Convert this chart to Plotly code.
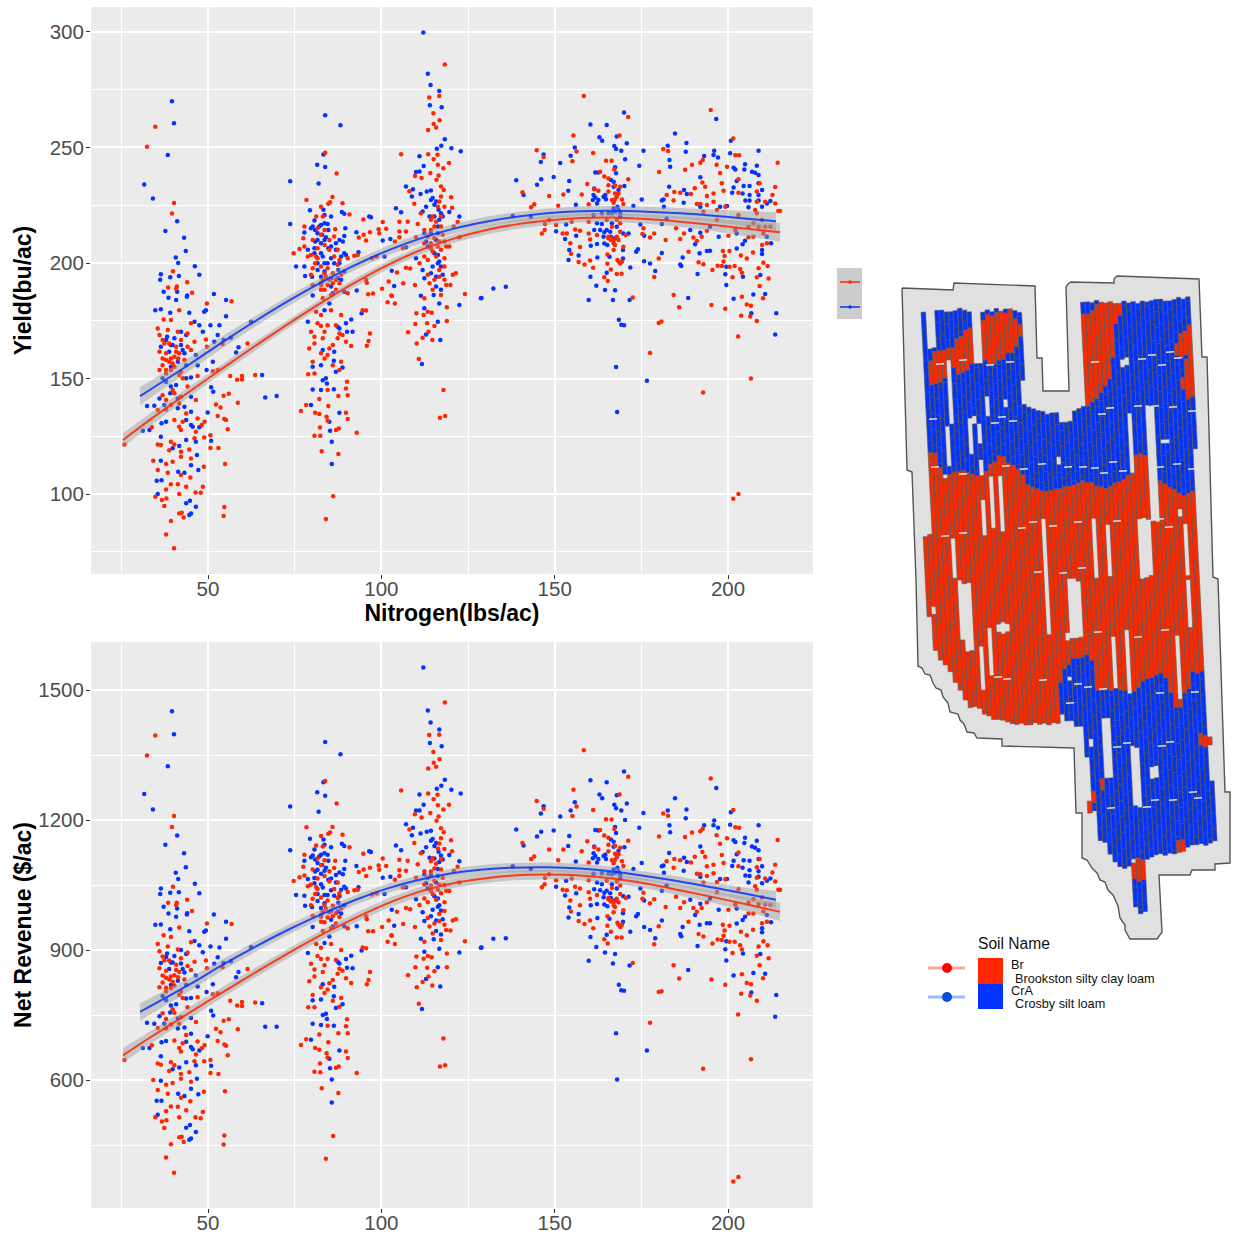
import plotly.graph_objects as go

# ---------- scatter records: (nitrogen, yield, net revenue) ----------
BLUE_LOW = [(39.6,270,1451),(40.2,260.5,1398),(38.4,246.7,1324),(31.6,234,1260),(34.1,227.9,1224),(41.1,218.1,1164),(37.7,213.8,1143),(43.1,210.9,1123),(43.6,205.2,1091),(40.7,202.4,1078),(41.4,200,1064),(46.2,198.6,1053),(47.5,194.9,1031),(36.4,195.1,1042),(36.2,192.8,1029),(39.1,193.8,1032),(41.6,194.4,1033),(51.7,186.6,982),(55.2,184,965),(37.2,187.6,1000),(38.6,185,984),(41.1,187.6,996),(44,185.9,985),
(34.8,179.6,958),(36.4,180,959),(39.1,178.5,948),(40.8,184,977),(43.9,185.4,982),(44.6,178.5,943),(49.4,179.6,945),(48.9,178.9,942),(55.2,177,926),(46.1,174.6,921),(47.5,173.1,911),(48.5,170.3,895),(50.7,173.1,908),(53.3,173.1,906),(52.8,168.8,883),(42.2,170.3,900),(38.2,168.1,892),(40.3,167.4,886),(43.7,168.8,891),(51.8,165.9,868),(54.5,166.7,870),(56.6,167.7,874),(62.4,174.6,907),(39.3,164.5,871),(36.4,163.8,870),(42.7,162.3,856),(46.5,160.2,841),(58.8,163.5,849),(58.1,161.3,837),(51.4,157.3,821),(47,155.8,816),(49.6,153.7,803),(43.7,155.8,819),(39.3,155.1,819),(45.1,150.5,789),(36.9,150.1,794),(65.6,151.5,777),(50.9,146.2,760),(51.5,144.3,749),(66.5,141.8,723),(69.8,142.4,723),(39.1,143.6,756),(36,141.4,747),(41.3,141.4,742),(45.1,142.1,743),(32.4,138.1,732),(34.5,138.2,730),(37.4,138.5,730),(43.2,137.8,721),(45.1,135.6,707),(49.9,135.3,701),(41.3,137.1,719),(36.6,130.6,687),(37.9,131.3,690),(43.7,132,688),(45.1,129.9,676),(31.2,127.4,674),(33.1,127.7,674),(36.4,124.8,655),(45.6,129.1,671),(47.5,128.9,668),(43.7,123.4,641),(41.7,120.8,629),(39.8,119.8,625),(46.5,122.6,634),(50.9,123.1,633),(46.8,116.9,603),(36.4,114.4,598),(45.1,112.5,580),(41.4,109.7,568),(47.2,110.4,567),(36.6,106,552),(35.2,105.8,552),(43.2,109.2,563),(35.5,100,520),(43.7,96,490),(44.8,97.1,496),(46.5,94.5,480),(45.1,91.6,465),(44.6,90.9,462),
(37.9,166.7,884),(39.8,164.5,871),(42.2,164.5,869),(43.2,160.9,848),(38.8,161.6,856),(41.3,157.3,829),(37.9,148.6,784),(40.8,147.2,775),(43.7,150.1,788),(39.3,146.5,772)]
BLUE_MID = [(83.8,264,1380),(88.2,259.6,1352),(83.3,247,1287),(81.5,242.5,1264),(83.8,241.5,1256),(73.7,235.4,1231),(81.9,234.4,1219),(79.4,222.8,1157),(83.3,223,1155),(83.6,220.8,1143),(88.6,222.1,1145),(89.3,221.3,1140),(73.7,216.9,1130),(80.7,218.4,1132),(82.6,216.5,1120),(84.5,216.9,1120),(85.5,220.1,1137),(79.7,215,1114),(77.8,213.2,1106),(81.6,212.9,1101),(89.6,215,1106),(92.8,213.3,1094),(89.3,211.7,1087),(88.9,209.3,1075),(86.9,208.6,1073),(83.6,210,1083),(81.6,210,1085),(78.8,205.7,1064),(80.7,206.4,1066),(82.6,204.2,1052),(85.5,202.1,1038),(89.3,204.2,1046),(89.8,203.5,1042),(93.4,204.7,1045),(75.4,198.5,1027),(77.8,198.5,1025),(84.5,199.9,1027),(87.9,199.9,1024),(89.3,196.3,1003),(81.6,197,1013),(83.6,196.3,1008),(78,194.4,1002),(80,194.1,999),(87.4,193.4,989),(85.5,189.8,970),(82.6,191.2,981),(89.3,187.6,955),(92.9,188.1,955),(80.2,185.9,953),(86,186.9,954),
(78.8,174.6,893),(83.6,179.6,916),(85,182.5,931),(87.4,172.4,873),(89.8,173.9,879),(90.1,170.3,859),(91.7,170.3,858),(87.9,171.7,869),(91.3,175.6,887),(94.3,178.2,899),(83.1,162.3,821),(86.4,161.6,815),(86.3,157.7,793),(82.6,155.8,786),(80.2,155.1,784),(86.9,152.9,766),(88.8,154.8,775),(83.1,149.3,750),(84,150.1,753),(84.3,147.9,741),(80.2,145.3,730),(82.6,145,727),(86.3,145.4,725),(87.9,135.2,668),(79.7,138.5,693),(85,131.3,649),(85.7,122.6,601),(85.7,113,548),(85.2,127.4,627),
(80.2,215.8,1118),(80.9,214.3,1109),(82.1,215.8,1116),(83.6,217.2,1123),(84.7,214.3,1106),(82.9,212.2,1096),(84,211.2,1090),(80.9,209.3,1081),(82.6,208.6,1076),(85.5,207.1,1065),(86.9,205.7,1056),(87.9,210,1079),(80.7,204.2,1054),(83.1,202.8,1044),(84.7,206.4,1062),(88.4,202.8,1039),(86.4,199.9,1025),(81.6,199.9,1029),(83.6,199.9,1027),(87.6,197,1009),(82.6,194.1,997),(85.5,193.4,990),(88.4,192.7,984)]
BLUE_HIGH = [(112.1,299.8,1552),(113.4,281.9,1453),(114.2,277,1425),(116.7,274.4,1409),(114,268.3,1378),(117.4,267.4,1370),(118.3,253.6,1293),(117.3,250.8,1279),(116,249.5,1272),(120.2,249.7,1270),(122.9,248.4,1261),(111,246.2,1259),(112.2,242,1235),(111,239.6,1222),(110,239.4,1222),(107.1,233.1,1190),(109.1,231.9,1182),(111.3,229.9,1169),(108.8,228.8,1165),(113.1,230.9,1173),(114.3,231.4,1175),(114.8,228.1,1156),(115.8,226.6,1147),(112.9,224.4,1137),(104.2,223.7,1141),(105.7,222,1130),(111.9,222.3,1126),(117.2,221.5,1118),(119.6,222.1,1119),(122.5,220.1,1105),(116.7,218.7,1103),(97,219.8,1126),(96.5,220.1,1128),(100.4,209.7,1067),(102.6,210.4,1069),(107.1,206.8,1045),(100.9,202.8,1029),(103.7,190.1,956),(103,196.6,993),(110,202.1,1017),(112.4,212.9,1074),(116.3,212.9,1071),(113.4,207.1,1042),(116.3,203.5,1019),(111.9,197,987),(112.4,193.4,967),(116.3,199.9,1000),(117.7,194.9,971),(114.3,195.6,978),(115.8,189.8,944),(117.2,188.4,936),(111.4,185.8,926),(115.1,186.2,925),(128.9,184.9,906),(122.5,181.8,894),(112.4,180.4,896),(116.7,182.5,903),(116.3,174.6,860),(117,166.7,816),(112.9,169.1,833),(111.7,156.3,764),
(114.3,227.3,1152),(115.3,225.2,1140),(116.5,223,1127),(113.9,220.1,1113),(115.3,220.1,1111),(117.7,220.1,1109),(116.3,215.8,1087),(114.3,212.9,1073),(112.9,209.3,1054),(115.8,210,1055),(115.3,204.2,1024),(116.7,200.6,1003),(114.8,198.5,993),(117.2,198.5,991),(115.8,194.1,968)]
BLUE_RIGHT = [(170,265.1,1312),(160.3,259.9,1292),(165,259.7,1287),(196.6,262.3,1274),(184.7,256.1,1250),(162.9,254.4,1259),(163.7,252.9,1250),(167.9,254.7,1257),(155.8,250,1241),(167.2,250.6,1235),(167.7,249.3,1227),(169.2,248.6,1222),(170.8,251.8,1238),(182.6,250.8,1222),(188,251.9,1224),(200.8,252.9,1218),(187.8,248.2,1204),(175.6,248.6,1216),(200.6,247.5,1189),(208.8,248.6,1188),(196,248.6,1199),(197.1,245.7,1182),(195.8,246.7,1188),(154.6,246.4,1222),(146.8,247,1232),(146,243.7,1215),(151.6,243.3,1208),(170.3,244.9,1200),(183.1,244.6,1188),(183.3,241.7,1172),(193.1,246.3,1188),(167.4,241.4,1184),(174.4,242.1,1182),(204.9,242.7,1159),(208.3,242.1,1152),(201.6,241.2,1153),(202.1,240.5,1149),(161.7,239.2,1177),(162.6,239.2,1176),(167.7,238.8,1170),(204.7,240.5,1147),(206.9,239.5,1139),(207.8,239.1,1136),(208.8,238.1,1130),(192,237.1,1139),(138.9,235.8,1178),(146.1,236.2,1173),(149.7,237.2,1176),(144.9,233.9,1162),(154.2,235.5,1163),(153.9,231.3,1140),(141,229.4,1141),(166.2,235.9,1155),(167,235.2,1150),(170.1,233.3,1137),(202.5,235.5,1121),(201.6,232.7,1106),(201.2,230.4,1094),(204.5,233.3,1107),(206.2,233.3,1106),(208.8,234.5,1110),(209.8,231.6,1093),(183,233,1124),(187.3,231.6,1113),(188.1,229.9,1103),(161.4,232.3,1139),(161.7,228.4,1117),(164.1,228.7,1117),(164.8,227.6,1110),(161,227.3,1112),(162.2,225.8,1102),(156.1,225.2,1104),(175.1,227.5,1101),(181.4,227.5,1095),(180.9,227,1093),(181.5,224.4,1078),(187.2,226.1,1083),(204.2,230.1,1090),(206.2,229.4,1084),(208.8,229.4,1082),(212.2,226.8,1065),(211.2,225.8,1060),(206.2,227,1071),(205,227,1072),(208.8,227,1069),(209.8,224.4,1054),(205.9,224.1,1056),(197.7,224.4,1064),(199.7,224.7,1064),(192,224.4,1069),(172.7,224.7,1087),(167,223.6,1086),(168.1,224.4,1090),(137.9,220.3,1093),(143.1,220,1087),(161.2,220.8,1076),(166.5,221.5,1075),(168.9,220,1065),(182.3,219.3,1049),(194.8,215.7,1019),(197.3,211.4,993),(189.1,214.3,1016),(192,213.1,1007),(153.3,216.7,1060),(163.6,216.9,1052),(161.4,214.3,1040),(174.7,216.7,1042),(180.9,216.9,1037),(150.4,213.7,1046),(156.2,211.8,1031),(153,210.4,1026),(163.1,214.3,1038),(164.3,213.3,1032),(166,213.5,1031),(166.2,211.4,1020),(169.8,212.8,1024),(171.3,212.8,1023),(175.8,211.8,1014),(202.5,212.8,996),(211.2,211.4,981),(212.4,208.5,964),(204.9,209.6,977),(204.2,208.1,969),(202.5,206.3,961),(190.5,208.1,981),(160.4,207.5,1003),(162.2,208.2,1006),(164.3,208.4,1005),(165.2,207.8,1001),(154.2,205.6,998),(169.7,205.6,985),(174,206,983),(173.5,204.9,978),(156.9,203.2,983),(162.3,202.4,974),(165.8,202.7,972),(169.7,202,965),(180.9,204.3,968),(186.9,202.4,953),(193.9,205.2,962),(194.8,205.3,962),(191.8,204.2,958),(209.8,205.6,950),(209.8,203.9,941),(154,201.3,975),(175.8,200.8,953),(177.5,199.8,946),(186.2,199.4,937),(186.5,198.7,932),(199.5,198.4,920),(179,196.5,927),(199.2,195.1,902),(191.2,195.2,909),(165,195.8,935),(171.8,198.1,942),(160.3,194.1,930),(209.3,194.8,891),(199.5,190.5,876),(204.3,194.1,892),(162,190.2,907),(164.5,188.3,894),(167.4,188.2,891),(210.7,186.6,845),(207.3,186.4,847),(188.5,184.8,854),(201.6,184.5,841),(159.8,184,875),(166.8,184,869),(171.6,184,864),(213.9,178.2,796),(206.7,178.2,802),(213.6,169.1,746),(168.5,175.4,820),(169.2,173.3,807),(170,173.1,806),(135.9,189.7,927),(132.3,189,926),(128.7,184.7,905),(167.7,155,708),(168,135.5,601),(176.6,149,668),
(161.2,229.4,1123),(162.6,227.3,1110),(164.6,229.4,1120),(165.5,221.5,1076),(167.4,222.2,1078),(168.4,222.9,1081),(168.9,221.5,1073),(163.6,221.5,1077),(162.2,217.2,1056),(166.5,217.2,1052),(167.9,215.7,1042),(165,214.3,1037),(164.1,211.4,1022),(167.4,210.7,1015),(167,233,1138),(168.4,231.6,1129)]

RED_LOW = [(34.8,259,1395),(32.4,250.3,1349),(40.2,226,1209),(39.6,221.4,1184),(39.9,196.4,1046),(38.5,189.4,1009),(41,189.8,1009),(40.8,188.9,1004),(44,191.7,1016),(45.4,187.1,990),(56.8,183.5,960),(49.7,182.5,961),(41.7,179.6,952),(37.2,175.6,934),(35.5,171.7,914),(36,168.8,897),(39.3,175.3,930),(45.1,173.9,918),(44.1,169.5,894),(49.4,166.9,876),(46.1,165.9,873),(37.4,165.2,876),(40.8,163.8,866),(36,161.6,858),(41.7,160.9,849),(38.8,157.3,832),(37.9,158,836),(39.8,156.5,827),(39.3,158.7,839),(41.4,158.7,837),(61.4,165.2,856),(49.7,163.8,858),(36,153.7,814),(37.9,153.7,813),(39.3,153.7,812),(41.7,151.5,797),(42.7,150.1,789),(47,151.1,791),(54.2,164.9,860),(51.4,153.2,798),(52.8,153.7,800),(56.4,151.1,783),(58.4,149.5,772),(59.8,151.1,780),(59.8,149.6,771),(63.6,151.5,779),(54.5,142.6,737),(56,143.4,740),(58.6,139.5,717),(52.3,138.8,718),(53.6,137.5,710),(52.8,133.8,690),(54.7,132.5,682),(55.7,128.1,657),(55.2,132,679),(36.9,142.8,754),(39.8,145,763),(42.2,142.1,745),(46.5,140.7,734),(39.3,138.5,728),(35.5,136.4,720),(37.9,136.6,719),(40.3,132,691),(42.7,131.3,685),(41.7,129.1,674),(47,132.7,689),(49,131.3,680),(48.2,129.9,673),(33.8,128.9,680),(25.9,121.5,646),(42.2,127.7,666),(46.5,127,659),(46.1,124.1,643),(48.9,124.5,643),(50.7,125.4,646),(35.5,121.5,638),(36.4,121.2,635),(39.3,122.6,641),(40.3,121.5,634),(38.8,119,621),(42.2,118.3,614),(44.6,119.3,618),(50.7,119.9,616),(53,119.9,614),(34.2,114.4,600),(37.9,113,589),(39.8,114,593),(42.2,116.2,603),(45.1,115.4,596),(48.8,111.8,573),(54.9,113,574),(35.5,110.4,577),(38.4,109.2,568),(42.2,108.2,559),(44.9,107.2,551),(48.5,103.2,526),(39.3,104.2,539),(37.9,102,528),(41.3,104.2,538),(43.7,103.2,530),(34.8,98.8,514),(36.7,97.4,504),(38,98.1,507),(41.7,100,514),(46.4,100.7,514),(47.9,100.6,512),(37.4,94.8,489),(42.4,91.9,469),(41.7,91.6,468),(43,89.9,457),(54.7,94.4,472),(54.5,90.5,451),(39.3,88.3,452),(37.9,82.5,421),(40.2,76.5,386),
(36.9,166.7,885),(38.8,165.2,876),(37.9,160.9,852),(40.3,159.4,842),(36.9,155.8,825),(40.3,155.1,818),(37.9,152.2,804),(43.2,158,832),(44.1,163.8,863),(42.2,166.7,881),(41.3,170.3,901),(38.4,171,908),(36.9,158.7,841),(40.8,161.6,854),(45.1,162.3,854),(42.2,152.9,805),(44.1,146.5,768),(40.3,143.6,755),(37.9,140.7,741),(41.7,139.2,730),(43.7,134.9,704)]
RED_MID = [(83.8,247.7,1290),(87.1,238.7,1238),(85.9,228.6,1184),(78.4,227.3,1183),(88.8,225.9,1166),(85.2,226.3,1171),(82.6,224.4,1163),(90.8,221,1137),(84.7,225.6,1168),(83.1,220.1,1139),(81.2,220.1,1141),(77.8,215.8,1120),(86.7,214.6,1106),(81.6,215,1112),(77.5,210.7,1092),(77.8,207.1,1072),(76.4,206.1,1068),(74.7,204.2,1059),(79.7,203.5,1051),(86.4,211.5,1089),(85,205.7,1058),(81.6,202.1,1041),(87.4,205.7,1056),(90.3,202.1,1034),(87.4,199.2,1020),(80.2,197.7,1018),(83.6,195.6,1004),(79.7,194.9,1003),(86,195.6,1002),(88.4,194.9,996),(82.6,190.5,977),(84.5,190.5,975),(87.9,191.2,976),(80.2,190.5,979),(83.6,188.4,964),(85.5,186.2,951),(90.3,186.9,950),(86.9,192.7,985),(83.1,184.7,944),(81.2,178.9,914),(82.6,177.5,905),(85.5,179.6,914),(88.4,177.5,900),(79.7,170.3,868),(82.6,172.7,879),(84.5,173.1,880),(87.9,169.5,857),(80.7,168.1,855),(83.1,167.4,849),(87.4,167.4,845),(80.7,165.2,839),(91.3,164.1,824),(89.8,165.9,835),(79.2,163,828),(84.5,160.2,809),(80.2,157.3,796),(88.4,157.3,789),(78.9,151.9,768),(86,155.8,783),(80.7,152.2,768),(90.1,148.6,740),(82.1,141.1,705),(89.8,145.7,724),(84.5,145,725),(90.3,142.8,708),(87.6,142.4,708),(78.3,138.5,694),(76.8,135.9,681),(80.9,135.2,674),(82.1,134.6,670),(84.7,138.1,687),(89.8,135.2,666),(84.2,133.5,662),(90.3,132.5,651),(84.5,131.7,652),(82.3,128.8,638),(86.9,127.7,628),(87.7,128.4,631),(92.9,126.5,616),(80.7,125.2,619),(82.4,125.2,618),(82.8,118.5,581),(87.6,117.3,570),(86.1,99.1,471),(84,89.2,418),(94.6,179.6,906),(95.6,179.4,904),(96.7,169.5,849),(96.3,166.2,831),(95.8,164.2,821),
(80.2,210,1086),(81.6,206.4,1065),(83.6,207.8,1071),(78.8,202.8,1047),(80.9,199.9,1029),(82.6,198.5,1021),(84.5,197.7,1014),(86.4,202.8,1041),(87.9,201.3,1031),(84,194.1,996),(85,192.7,987),(83.1,192.7,989),(86,191.2,978),(82.6,188.4,965),(86.9,188.4,961),(81.2,202.8,1045),(85,210,1082),(83.6,214.3,1107),(82.6,212.2,1096),(81.6,173.9,886),(83.6,170.3,865),(86.9,173.1,877),(86,164.5,831),(88.8,168.8,852),(82.6,160.9,814),(83.6,158.7,801),(85,163,823),(87.9,153.7,769)]
RED_HIGH = [(118.3,285.9,1471),(113.8,271.6,1396),(116.7,272.3,1397),(115,264.8,1357),(116.8,261.8,1340),(115.1,260.2,1332),(113.5,257.6,1319),(115.8,258.6,1323),(105.7,247.1,1268),(113.5,247.1,1261),(116.2,246.9,1258),(115.1,244.9,1248),(116.3,242.5,1234),(119.5,243.3,1235),(117.9,241,1224),(109.7,237.7,1213),(111.6,236.8,1206),(114.1,239,1216),(116.5,237.9,1208),(115.9,236,1198),(117.2,233.1,1181),(118,231.6,1172),(108.1,231.1,1178),(117.2,228.8,1158),(120.1,228.5,1153),(109.5,225.6,1147),(120.4,223.9,1128),(116.3,224.4,1134),(118.2,224.4,1133),(116.7,226.6,1146),(111.4,221.5,1123),(105.2,217.9,1108),(107.6,217.9,1106),(110.5,216.9,1098),(114.3,218.7,1105),(117.2,215.8,1086),(115.3,215.8,1088),(122,217.7,1092),(120.9,215.8,1083),(105.2,213.6,1084),(107.1,213.6,1083),(112.4,214.3,1082),(105.2,211.2,1071),(110,211.2,1067),(113.4,211.5,1066),(118.2,209.3,1050),(114.3,208.6,1049),(116.3,207.1,1039),(119.6,207.1,1036),(122.5,211.2,1056),(103.9,209.3,1062),(106.2,206.4,1044),(112.4,202.8,1019),(118.2,202.1,1010),(114.8,205,1029),(107.1,198,997),(108.3,197.6,994),(111,199.9,1004),(118.2,198.5,990),(120.6,194.9,968),(121.5,195.6,971),(113.4,194.9,974),(116.7,194.1,967),(104.5,195.9,988),(106.3,191.2,960),(109.7,190.5,953),(113.9,191.2,954),(118.7,190.5,946),(119.9,190.5,945),(102.1,192,968),(100.2,188.9,953),(102.9,185.9,934),(112.4,184.7,919),(117.2,186.2,923),(124.1,186.6,920),
(94.8,218.8,1122),(100.4,217.7,1111),(99.2,214.6,1095),(101.4,214.8,1094),(96.7,213.3,1090),(99.4,212.9,1085),(93.5,211,1080),(94.9,212.2,1086),(95.6,209.7,1071),(97.3,202.1,1028),(98.6,202.8,1031),(92.2,203.1,1038),(93.2,203.5,1039),(95.6,192.7,978),(95.8,191.5,971),(96.2,186.5,943),(97.6,186.8,943),(101.8,183,919),(103,185.7,933),(103.9,182.5,914),(110.1,178.2,885),(112.2,177.5,880),(113.4,178.9,886),(114.5,178.5,883),(118.9,180.8,892),(109.8,173.6,860),(113.2,173.9,859),(115.3,172.7,851),(118.9,174.9,860),(107.7,170,842),(113.6,170.3,839),(111.9,167.7,826),(114.7,166.7,818),(110.2,165.2,814),(110.8,158.4,776),(117.9,145,696),(118.4,133.8,634),(116.9,133,631),
(114.8,220.1,1112),(115.8,217.9,1099),(117.2,220.1,1110),(114.3,214.3,1081),(117.7,212.2,1066),(115.3,210.7,1060),(116.7,209.3,1051),(112.4,208.6,1051),(118.7,207.1,1037),(114.3,206.4,1037),(117.2,205.7,1031),(115.8,202.8,1016),(113.4,201.3,1010),(116.7,197,983),(115.3,192.7,961),(118.2,192.7,958),(114.8,188.4,938)]
RED_RIGHT = [(158.4,272.3,1361),(171.2,263.2,1300),(195,266.2,1296),(168.7,255.2,1259),(155.4,255.2,1270),(201.5,253.9,1223),(144.8,248.8,1244),(146.8,245.9,1226),(156.3,248.3,1231),(161.1,247.6,1223),(181.3,249.3,1215),(182.7,248.5,1210),(202.1,246.6,1183),(203.2,246.6,1182),(155.1,244,1209),(164.8,244.3,1202),(166.4,244.3,1201),(192.7,244.6,1180),(192,243.4,1174),(189.6,242.5,1171),(196.7,242.5,1165),(199.7,241.7,1158),(214.3,243.4,1154),(180.1,239.4,1162),(197.7,239,1145),(167.2,240.5,1179),(163.1,239.5,1177),(187.6,240.4,1161),(164.3,237.4,1164),(165.5,236.6,1159),(171.2,236.2,1152),(203,236.3,1125),(192.6,234.8,1126),(198.2,234.5,1119),(159.4,234.2,1151),(165.5,233.7,1143),(167.4,233.5,1140),(213.6,232.9,1097),(209.1,234.5,1110),(184.5,230.7,1110),(190.4,232.4,1115),(193.4,233,1115),(140.7,230.6,1147),(148.4,229,1132),(152.5,229.7,1132),(157.8,229.7,1128),(161.4,231.9,1137),(162.6,231.3,1132),(165.5,230.9,1128),(168.4,230.1,1121),(186.2,230.4,1107),(189.3,229.9,1102),(195.8,230.1,1097),(198.7,231.3,1101),(203,230.4,1093),(208.3,230.9,1091),(212.8,229.4,1079),(184.3,227,1090),(182.3,229.4,1105),(167.3,227.5,1107),(169.4,227.5,1105),(193.9,229,1093),(191,225.5,1076),(192,225.5,1075),(193.9,225.1,1071),(195.8,226.5,1077),(208.3,226.5,1067),(210.7,226.5,1065),(213.6,225.8,1058),(144.1,225.4,1116),(143.2,224.1,1110),(151,224.8,1107),(159.8,225.4,1102),(167,226.1,1100),(169.8,225.5,1094),(199.2,224.4,1063),(203,220.8,1040),(207.8,222.9,1047),(214.5,222.5,1039),(215,222.5,1039),(196.8,222.9,1057),(192.9,222.2,1056),(148.4,218.6,1075),(147.2,216.9,1066),(146.3,212.8,1045),(147.1,214.3,1052),(150.4,216.4,1061),(152.3,212.8,1039),(153.5,212.8,1038),(154.9,217.9,1065),(155.9,214.5,1046),(157.3,214,1042),(159.8,217.9,1061),(159.8,212.8,1033),(160.2,210.2,1018),(162.2,212.1,1027),(165.5,210.7,1017),(167,210,1011),(167.4,207.8,999),(168.4,210,1010),(168.9,213.5,1029),(169.8,207,992),(170.5,212.1,1020),(175.6,215,1032),(175.3,212.5,1018),(177.5,211,1008),(178.7,212.8,1017),(182,210,999),(185,215,1023),(186.2,210.4,997),(187.3,212.8,1010),(190,211,997),(191,209.5,988),(192.4,211.4,997),(193.9,214,1010),(196.8,218.6,1033),(200.1,211.8,993),(202.1,214.3,1005),(205.9,211.1,984),(207.3,211.4,984),(209.8,207.8,962),(211.2,208.5,965),(154.5,208.6,1014),(157.3,206.9,1003),(154.7,204,989),(156.9,200.4,967),(158.6,199.4,960),(160.2,201.1,968),(161.1,198,950),(165.2,203.7,978),(165.2,199.7,956),(168.1,201.3,963),(168.9,199.8,953),(169.4,200.6,958),(166.2,197.2,942),(164.3,193.8,925),(165.3,192.2,915),(167.9,195.2,929),(169.3,195.4,929),(180,201.9,955),(188.6,204.9,965),(191.5,200.3,937),(192.9,199.5,931),(195.5,197,915),(197,198.8,924),(198.5,205.2,958),(199,203,945),(200.4,205.2,956),(198.7,200.6,933),(198.2,198.7,923),(200.4,198.4,919),(201.9,198.7,919),(203.7,203.2,942),(205.4,201.9,934),(207.2,204.5,947),(203.5,197.4,911),(204,195.8,901),(201.3,193.8,893),(208.3,193.8,887),(210.2,200.1,920),(211.4,198.7,911),(208.8,197.7,908),(211.7,193.3,881),(209.1,190,865),(210.1,184.7,835),(178.7,193.9,913),(172.5,185.1,870),(184.3,186.1,865),(185.9,180.8,834),(204,185.4,844),(205.4,182,824),(206.6,181.5,821),(195.2,181.8,832),(199.2,180.2,820),(203.8,177.2,799),(206.4,176.8,795),(208.3,174.9,783),(180.8,174.7,805),(202.9,168.2,751),(177.5,161,732),(206.6,150,648),(192.8,144,626),(201.5,98,366),(203,100,376),(180,174,803),
(165.5,211.4,1020),(166.2,210,1012),(167,208.5,1003),(167.9,211.4,1018),(166.5,215.7,1043),(167.9,218.6,1058),(168.9,217.2,1049),(165,218.6,1060),(166.5,227.3,1107),(167.9,228.7,1114),(167.4,230.1,1122),(168.9,233,1136),(167,205.6,987),(168.4,200.6,958),(166,210.7,1016),(208.3,221.5,1039),(209.8,218.6,1022),(208.8,215.7,1006),(210.7,215.7,1005),(207.3,217.2,1017),(210.2,212.8,989),(212.2,215.7,1004),(205.9,215.7,1009)]

# ---------- fitted curves with their standard-error half-widths ----------
RED_FIT_N = [25.5,33.3,44.8,54.3,64.1,73.7,83.2,93,102.5,112,121.8,131.3,138,147.8,157.3,166.8,176.6,186.1,195.7,205.5,215]
RED_FIT_YIELD = [123.4,132.2,144.5,154.5,164.6,174.2,183.3,192,199.6,206,211,214.6,216.5,218.4,219.5,219.7,219,217.9,216.5,214.8,213.3]
RED_SE_YIELD = [3.0,2.7,2.2,2.0,1.9,1.8,1.8,1.8,1.8,1.8,1.8,1.9,2,2,2,2,2,2.2,2.6,3.2,4]
RED_FIT_REV = [657,698,756,803,850,895,937,976,1010,1037,1056,1067,1072,1074,1072,1065,1053,1038,1022,1005,988]
RED_SE_REV = [17,15,13,12,11,11,11,11,11,11,11,11,11,11,11,11,11,12,13,16,21]
BLUE_FIT_N = [30.4,44.8,54.3,64,73.7,83.2,93,102.5,112,121.8,131.3,138,147.8,157.3,166.8,176.6,186.1,195.7,205.5,213.8]
BLUE_FIT_YIELD = [142.4,156.3,165.9,175.2,184,192,199.5,205.8,211,215.2,218.2,219.8,221.5,222.4,222.6,222.2,221.5,220.5,219.2,218.1]
BLUE_SE_YIELD = [3.9,3.0,2.6,2.3,2.2,2.1,2.1,2.1,2.1,2.1,2.1,2.1,2.1,2.1,2.1,2.2,2.4,2.7,3.2,3.9]
BLUE_FIT_REV = [757,821,866,909,949,984,1017,1044,1064,1079,1087,1090,1091,1088,1081,1070,1058,1044,1029,1016]
BLUE_SE_REV = [20,15,13,12,11,11,11,11,11,11,11,11,11,11,11,11,11,12,14,20]

X_TICKS = [50,100,150,200]
X_MINOR = [25,75,125,175]
YIELD_TICKS = [100,150,200,250,300]
YIELD_MINOR = [75,125,175,225,275]
REV_TICKS = [600,900,1200,1500]
REV_MINOR = [450,750,1050,1350]
LEGEND_LABELS = ["Br", "Brookston silty clay loam", "CrA", "Crosby silt loam"]

# ---------- field map, in field coordinates ----------
FIELD_EDGE = [(902,288),(953,290),(954,283),(1035,286),(1037,358),(1042,358),(1043,391),(1069,391),(1066,287),(1068,284),(1071,282),(1114,283),(1114,279),(1117,276),(1199,279),(1202,357),(1207,357),(1213,577),(1218,579),(1225,792),(1230,792),(1230,863),(1215,864),(1215,870),(1192,870),(1190,875),(1159,875),(1162,932),(1157,939),(1130,939),(1125,930),(1125,925),(1120,918),(1118,906),(1113,895),(1108,890),(1105,882),(1100,880),(1097,873),(1092,868),(1087,860),(1082,858),(1082,813),(1076,813),(1074,748),(1002,746),(1002,739),(977,738),(974,733),(967,732),(964,724),(960,720),(958,714),(950,712),(948,703),(943,697),(941,690),(936,688),(933,683),(930,675),(925,674),(922,668),(918,666),(916,580),(912,472),(907,470)]
BLUE_UPPER = [(923,311),(928,311),(932,313),(943,310),(962,310),(973,314),(985,310),(1012,309),(1021,311),(1023,376),(1021,403),(1027,408),(1043,413),(1060,412),(1070,411),(1087,405),(1082,303),(1101,302),(1163,301),(1190,298),(1196,424),(1194,495),(1000,495),(930,470),(929,427)]
BLUE_LOWER = [(1060,650),(1203,650),(1205,733),(1210,747),(1215,840),(1210,843),(1190,845),(1177,852),(1153,857),(1145,858),(1133,859),(1132,868),(1127,868),(1118,867),(1113,858),(1105,843),(1100,842),(1098,813),(1090,812),(1088,767),(1085,730),(1063,717),(1057,697)]
BLUE_TAIL = [(1133,873),(1147,873),(1147,913),(1138,912),(1133,897)]
RED_MAIN = [(930,454),(939,455),(940,467),(945,477),(953,471),(970,472),(982,477),(990,463),(1003,455),(1007,463),(1020,468),(1030,487),(1050,490),(1063,487),(1083,480),(1107,487),(1127,478),(1135,457),(1144,454),(1155,477),(1170,487),(1182,497),(1193,492),(1198,573),(1198,580),(1202,633),(1202,673),(1193,670),(1190,687),(1182,697),(1182,708),(1173,708),(1172,697),(1167,680),(1160,672),(1147,678),(1133,695),(1120,690),(1097,690),(1092,660),(1087,653),(1070,662),(1063,673),(1057,697),(1058,715),(1063,725),(1057,725),(1043,723),(1023,725),(1007,722),(987,717),(980,708),(970,707),(960,690),(950,672),(940,660),(935,647),(933,630),(928,613),(927,580),(927,577),(924,537),(933,536),(931,473)]
RED_WEDGE_WEST = [(934,353),(952,348),(955,338),(972,328),(974,360),(970,368),(958,374),(952,365),(945,362),(945,383),(927,384),(926,362),(934,362)]
RED_WEDGE_MID = [(978,328),(987,315),(1012,310),(1016,322),(1021,323),(1021,336),(1015,350),(1003,358),(990,364),(978,357)]
RED_EAST_LOBE = [(1083,315),(1087,315),(1092,310),(1101,303),(1123,303),(1123,311),(1113,326),(1113,370),(1107,385),(1100,395),(1087,406),(1085,357)]
RED_EAST_TOP = [(1178,337),(1188,326),(1192,326),(1192,357),(1177,357),(1176,347)]
RED_EAST_MID = [(1184,358),(1193,358),(1194,392),(1190,400),(1186,398),(1185,390),(1181,390),(1181,378),(1184,378)]
RED_TAIL = [(1136,859),(1145,859),(1146,873),(1141,883),(1133,880),(1132,867)]
RED_SPOT_A = [(1197,735),(1211,735),(1211,746),(1197,747)]
RED_SPOT_B = [(1100,780),(1106,780),(1106,792),(1100,792)]
RED_SPOT_C = [(1092,790),(1097,790),(1098,801),(1093,801)]
RED_SPOT_D = [(1088,802),(1094,802),(1094,812),(1089,812)]
RED_SPOT_E = [(1178,841),(1184,841),(1184,850),(1178,851)]
GAPS = [(927.5,310,932.5,347),(973.3,312,978.3,365),(944,360,949,413),(949,412,955,423),(942.7,425,951.7,465),(986,396,990.6,418),(1003,401,1007.6,407),(966.7,417,978,424),(969.3,418,974,453),(977.7,423,982.7,443),(980,460,984.6,477),(1060.7,411,1070,422),(1054.3,457,1062.7,464),(1125,413,1130,472),(1143.3,405,1155,523),(1138.3,518,1152,577),(1121.7,359,1130.7,367),(1161,437.7,1170,443),(1177.7,510,1182.3,518),(989.3,475,994,527),(998.3,474,1002.9,533),(982.7,499,987.3,535),(1039.3,519,1046.7,580),(1089.3,518,1095,577),(1103.3,525,1109.3,577),(948.3,537,953.3,580),(1183.3,522,1189.3,577),(960,583,972.7,650),(955,580,959.6,640),(985,627,992.7,676),(996.7,623,1010,633),(1043.3,580,1048.3,633),(1068.3,580,1080,637),(1063,632,1077,640),(1112.5,635,1117.1,690),(1122.5,628,1130,695),(1175,635,1179.6,698),(1188,580,1192.6,628),(1065,675,1069.6,680),(1102.7,717,1110,778),(1090.7,739,1095.3,748),(1131.7,747,1137.3,807),(1150,766,1158.3,777),(933.3,607,937.9,613),(977.7,647,982.3,690)]
SLIVERS = [(963,360),(940,364),(1010,362),(990,365),(1095,362),(1152,355),(1162,365),(1170,352),(1178,358),(1142,359),(1002,417),(995,423),(1013,421),(1110,408),(1102,414),(1155,406),(1173,407),(1138,406),(1192,411),(933,419),(1024,469),(1006,466),(1042,464),(1068,467),(1083,467),(1095,468),(1113,462),(1104,473),(1123,471),(1177,464),(1160,467),(1192,469),(935,467),(963,474),(1160,519),(1169,527),(1053,526),(1033,522),(1078,522),(1117,521),(1022,528),(1063,573),(1082,568),(1038,572),(963,533),(945,536),(1098,632),(1138,637),(1165,630),(998,677),(1007,679),(1043,680),(1078,684),(1088,687),(1103,689),(1195,692),(1070,703),(1160,693),(1117,747),(1127,743),(1162,746),(1170,742),(1111,808),(1147,807),(1155,800),(1173,800),(1198,798),(1193,792)]
COLUMN_STAGGER = [0,3,6,2,8,4,11,1,7,13,5,9,2,12,6,3,10,0,8,14,4,7,1,11]

RED_C, BLUE_C = "#ff2600", "#0433ff"
FONT = "Liberation Sans"

def unpack(*groups):
    rows = [r for g in groups for r in g]
    return [r[0] for r in rows], [r[1] for r in rows], [r[2] for r in rows]

def inside(px, py, poly):
    hit = False
    n = len(poly)
    for a in range(n):
        x1, y1 = poly[a]
        x2, y2 = poly[(a + 1) % n]
        if (y1 > py) != (y2 > py) and px < x1 + (py - y1) * (x2 - x1) / (y2 - y1):
            hit = not hit
    return hit

def in_gap(px, py):
    for x0, y0, x1, y1 in GAPS:
        if y0 <= py <= y1 and x0 <= px - 0.05 * (py - y0) <= x1:
            return True
    return False

ZONES = [("B", BLUE_UPPER), ("B", BLUE_LOWER), ("B", BLUE_TAIL), ("R", RED_MAIN), ("R", RED_WEDGE_WEST), ("R", RED_WEDGE_MID), ("R", RED_EAST_LOBE), ("R", RED_EAST_TOP), ("R", RED_EAST_MID), ("R", RED_TAIL), ("R", RED_SPOT_A), ("R", RED_SPOT_B), ("R", RED_SPOT_C), ("R", RED_SPOT_D), ("R", RED_SPOT_E)]
CELL_W, CELL_H, TILT, SLICE = 4.57, 16.0, 0.05, 4.0

def corner(i, v):
    y = v - TILT * CELL_W * i
    return 925 + CELL_W * i + TILT * (y - 300), y

cells = {"R": ([], []), "B": ([], [])}
rules_x, rules_y = [], []
for i in range(-5, 60):
    off = COLUMN_STAGGER[i % len(COLUMN_STAGGER)]
    run_soil, run_start = None, None
    for s in range(0, 170):
        v0 = 285 + off + SLICE * s
        cx, cy = corner(i + 0.5, v0 + SLICE / 2)
        soil = None
        if not in_gap(cx, cy):
            for name, poly in ZONES:
                if inside(cx, cy, poly):
                    soil = name
        if soil != run_soil:
            if run_soil:
                pts = [corner(i, run_start), corner(i + 1, run_start), corner(i + 1, v0), corner(i, v0), corner(i, run_start)]
                cells[run_soil][0].extend([p[0] for p in pts] + [None])
                cells[run_soil][1].extend([p[1] for p in pts] + [None])
            run_soil, run_start = soil, v0
        elif soil and s % 4 == 0:
            a, b = corner(i, v0), corner(i + 1, v0)
            rules_x += [a[0], b[0], None]
            rules_y += [a[1], b[1], None]

fig = go.Figure()
W, H = 1233, 1241

def add_panel(xa, ya, fit_key):
    sets = [(BLUE_C, unpack(BLUE_LOW, BLUE_MID, BLUE_HIGH, BLUE_RIGHT)), (RED_C, unpack(RED_LOW, RED_MID, RED_HIGH, RED_RIGHT))]
    for colour, (n, yl, rv) in sets:
        fig.add_trace(go.Scatter(x=n, y=yl if fit_key == "y" else rv, mode="markers", xaxis=xa, yaxis=ya,
                                 marker=dict(color=colour, size=4.5), showlegend=False, hoverinfo="skip"))
    fits = [(RED_C, RED_FIT_N, RED_FIT_YIELD, RED_SE_YIELD, RED_FIT_REV, RED_SE_REV),
            (BLUE_C, BLUE_FIT_N, BLUE_FIT_YIELD, BLUE_SE_YIELD, BLUE_FIT_REV, BLUE_SE_REV)]
    for colour, n, fy, sy, fr, sr in fits:
        f, s = (fy, sy) if fit_key == "y" else (fr, sr)
        up = [a + b for a, b in zip(f, s)]
        lo = [a - b for a, b in zip(f, s)]
        fig.add_trace(go.Scatter(x=n + n[::-1], y=up + lo[::-1], mode="lines", fill="toself", fillcolor="rgba(153,153,153,0.45)",
                                 line=dict(width=0), xaxis=xa, yaxis=ya, showlegend=False, hoverinfo="skip"))
    for colour, n, fy, sy, fr, sr in fits:
        fig.add_trace(go.Scatter(x=n, y=fy if fit_key == "y" else fr, mode="lines", line=dict(color=colour, width=2, shape="spline"),
                                 opacity=0.85, xaxis=xa, yaxis=ya, showlegend=False, hoverinfo="skip"))

add_panel("x", "y", "y")
add_panel("x2", "y2", "r")

# map
mx, my = zip(*(FIELD_EDGE + FIELD_EDGE[:1]))
fig.add_trace(go.Scatter(x=mx, y=my, mode="lines", fill="toself", fillcolor="#e0e0e0", line=dict(color="#555555", width=1.4),
                         xaxis="x3", yaxis="y3", showlegend=False, hoverinfo="skip"))
for soil, colour in (("R", "#f92a00"), ("B", "#0433f5")):
    fig.add_trace(go.Scatter(x=cells[soil][0], y=cells[soil][1], mode="lines", fill="toself", fillcolor=colour,
                             line=dict(color="#5c5c5c", width=0.6), xaxis="x3", yaxis="y3", showlegend=False, hoverinfo="skip"))
fig.add_trace(go.Scatter(x=rules_x, y=rules_y, mode="lines", line=dict(color="#5c5c5c", width=0.6), xaxis="x3", yaxis="y3", showlegend=False, hoverinfo="skip"))
sx, sy = [], []
for a, b in SLIVERS:
    sx += [a - 4, a + 4, None]
    sy += [b + 0.2, b - 0.2, None]
fig.add_trace(go.Scatter(x=sx, y=sy, mode="lines", line=dict(color="#e0e0e0", width=1.5), xaxis="x3", yaxis="y3", showlegend=False, hoverinfo="skip"))

# legend key pieces
for colour, ky in ((RED_C, 282), (BLUE_C, 307)):
    fig.add_trace(go.Scatter(x=[840, 860], y=[ky, ky], mode="lines", line=dict(color=colour, width=1.5), xaxis="x3", yaxis="y3", showlegend=False, hoverinfo="skip"))
    fig.add_trace(go.Scatter(x=[850], y=[ky], mode="markers", marker=dict(color=colour, size=3.5), xaxis="x3", yaxis="y3", showlegend=False, hoverinfo="skip"))
for colour, ky in (("rgba(255,38,0,0.4)", 968), ("rgba(4,80,255,0.4)", 997)):
    fig.add_trace(go.Scatter(x=[928, 965], y=[ky, ky], mode="lines", line=dict(color=colour, width=3), xaxis="x3", yaxis="y3", showlegend=False, hoverinfo="skip"))
for colour, ky in (("#ff0000", 968), ("#0450d8", 997)):
    fig.add_trace(go.Scatter(x=[947], y=[ky], mode="markers", marker=dict(color=colour, size=10), xaxis="x3", yaxis="y3", showlegend=False, hoverinfo="skip"))

shapes = [
    dict(type="rect", xref="x3", yref="y3", x0=830, x1=1233, y0=260, y1=1020, fillcolor="white", line=dict(width=0), layer="below"),
    dict(type="rect", xref="x3", yref="y3", x0=837, x1=862, y0=268, y1=319, fillcolor="#cccccc", line=dict(width=0), layer="below"),
    dict(type="rect", xref="x3", yref="y3", x0=978, x1=1003, y0=958, y1=984, fillcolor=RED_C, line=dict(width=0)),
    dict(type="rect", xref="x3", yref="y3", x0=978, x1=1003, y0=984, y1=1009, fillcolor=BLUE_C, line=dict(width=0)),
]
def note(text, x, y, size):
    return dict(text=text, xref="x3", yref="y3", x=x, y=y, xanchor="left", yanchor="middle", showarrow=False,
                font=dict(family=FONT, size=size, color="#111111"))
annotations = [note("Soil Name", 976, 943, 15.6), note(LEGEND_LABELS[0], 1009, 965, 12.7), note(LEGEND_LABELS[1], 1013, 979, 12.7),
               note(LEGEND_LABELS[2], 1009, 991, 12.7), note(LEGEND_LABELS[3], 1013, 1004, 12.7)]

def x_axis(anchor, title=None):
    d = dict(domain=[91 / W, 813 / W], range=[16.25, 224.5], anchor=anchor, tickvals=X_TICKS, ticks="outside", ticklen=4, tickcolor="#333333",
             tickfont=dict(family=FONT, size=20.5, color="#4d4d4d"), ticklabelstandoff=-8, gridcolor="white", gridwidth=1.6, showline=False, zeroline=False,
             minor=dict(tickvals=X_MINOR, showgrid=True, gridcolor="white", gridwidth=0.8, ticks=""))
    if title:
        d["title"] = dict(text=title, font=dict(family=FONT, size=23, color="black", weight="bold"), standoff=6)
    return d

def y_axis(anchor, rng, top, bottom, ticks, minor, title, standoff):
    return dict(domain=[(H - bottom) / H, (H - top) / H], range=rng, anchor=anchor, tickvals=ticks, ticks="outside", ticklen=4, tickcolor="#333333",
                tickfont=dict(family=FONT, size=20.5, color="#4d4d4d"), ticklabelstandoff=-2, gridcolor="white", gridwidth=1.6, showline=False, zeroline=False,
                minor=dict(tickvals=minor, showgrid=True, gridcolor="white", gridwidth=0.8, ticks=""),
                title=dict(text=title, font=dict(family=FONT, size=23, color="black", weight="bold"), standoff=standoff))

fig.update_layout(
    width=W, height=H, autosize=False, margin=dict(l=0, r=0, t=0, b=0), paper_bgcolor="white", plot_bgcolor="#ebebeb", showlegend=False,
    xaxis=x_axis("y", "Nitrogen(lbs/ac)"),
    yaxis=y_axis("x", [65.4, 310.8], 7, 574, YIELD_TICKS, YIELD_MINOR, "Yield(bu/ac)", 11),
    xaxis2=x_axis("y2"),
    yaxis2=y_axis("x2", [304.6, 1610.8], 642, 1208, REV_TICKS, REV_MINOR, "Net Revenue ($/ac)", 0),
    xaxis3=dict(domain=[830 / W, 1], range=[830, 1233], anchor="y3", visible=False),
    yaxis3=dict(domain=[(H - 1020) / H, (H - 260) / H], range=[1020, 260], anchor="x3", visible=False),
    shapes=shapes, annotations=annotations,
)
fig.write_html("out.html", config={"displayModeBar": False}, post_script="document.body.style.margin='0';document.documentElement.style.overflow='hidden';")
